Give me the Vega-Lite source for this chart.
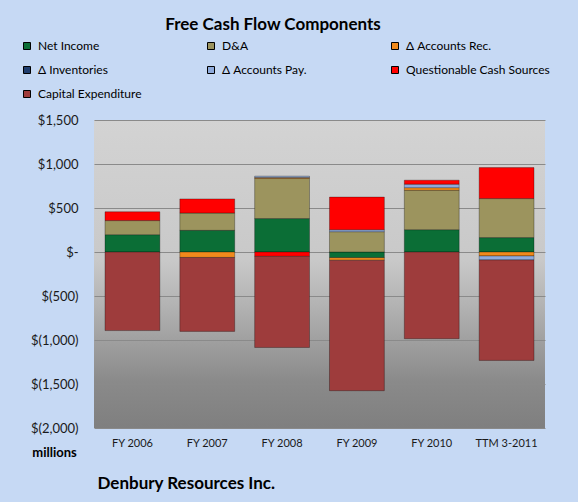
{
  "$schema": "https://vega.github.io/schema/vega-lite/v6.json",
  "width": 451,
  "height": 308,
  "autosize": {"type": "none"},
  "padding": {"left": 94, "top": 120, "right": 33, "bottom": 74},
  "background": "#c6d9f4",
  "view": {
    "stroke": null,
    "fill": {
      "gradient": "linear", "x1": 0, "y1": 0, "x2": 0, "y2": 1,
      "stops": [
        {"offset": 0, "color": "#d3d3d3"},
        {"offset": 0.45, "color": "#c9c9c9"},
        {"offset": 0.6, "color": "#b3b3b3"},
        {"offset": 0.85, "color": "#8a8a8a"},
        {"offset": 1, "color": "#7f7f7f"}
      ]
    }
  },
  "title": {
    "text": "Free Cash Flow Components",
    "anchor": "middle",
    "frame": "group",
    "dx": -46.5,
    "offset": -7,
    "baseline": "alphabetic",
    "font": "Lato",
    "fontSize": 17,
    "fontWeight": "bold",
    "color": "#000000"
  },
  "data": {
    "values": [
      {"period": "FY 2006", "component": "Net Income", "idx": 1, "value": 197},
      {"period": "FY 2006", "component": "D&A", "idx": 2, "value": 160},
      {"period": "FY 2006", "component": "Questionable Cash Sources", "idx": 6, "value": 100},
      {"period": "FY 2006", "component": "Capital Expenditure", "idx": 7, "value": -893},

      {"period": "FY 2007", "component": "Net Income", "idx": 1, "value": 246},
      {"period": "FY 2007", "component": "D&A", "idx": 2, "value": 197},
      {"period": "FY 2007", "component": "Δ Accounts Rec.", "idx": 3, "value": -62},
      {"period": "FY 2007", "component": "Questionable Cash Sources", "idx": 6, "value": 160},
      {"period": "FY 2007", "component": "Capital Expenditure", "idx": 7, "value": -840},

      {"period": "FY 2008", "component": "Net Income", "idx": 1, "value": 380},
      {"period": "FY 2008", "component": "D&A", "idx": 2, "value": 455},
      {"period": "FY 2008", "component": "Δ Accounts Rec.", "idx": 3, "value": 12},
      {"period": "FY 2008", "component": "Δ Accounts Pay.", "idx": 5, "value": 15},
      {"period": "FY 2008", "component": "Questionable Cash Sources", "idx": 6, "value": -50},
      {"period": "FY 2008", "component": "Capital Expenditure", "idx": 7, "value": -1035},

      {"period": "FY 2009", "component": "Net Income", "idx": 1, "value": -64},
      {"period": "FY 2009", "component": "D&A", "idx": 2, "value": 231},
      {"period": "FY 2009", "component": "Δ Accounts Rec.", "idx": 3, "value": -30},
      {"period": "FY 2009", "component": "Δ Accounts Pay.", "idx": 5, "value": 22},
      {"period": "FY 2009", "component": "Questionable Cash Sources", "idx": 6, "value": 371},
      {"period": "FY 2009", "component": "Capital Expenditure", "idx": 7, "value": -1482},

      {"period": "FY 2010", "component": "Net Income", "idx": 1, "value": 254},
      {"period": "FY 2010", "component": "D&A", "idx": 2, "value": 447},
      {"period": "FY 2010", "component": "Δ Accounts Rec.", "idx": 3, "value": 30},
      {"period": "FY 2010", "component": "Δ Accounts Pay.", "idx": 5, "value": 40},
      {"period": "FY 2010", "component": "Questionable Cash Sources", "idx": 6, "value": 45},
      {"period": "FY 2010", "component": "Capital Expenditure", "idx": 7, "value": -985},

      {"period": "TTM 3-2011", "component": "Net Income", "idx": 1, "value": 164},
      {"period": "TTM 3-2011", "component": "D&A", "idx": 2, "value": 443},
      {"period": "TTM 3-2011", "component": "Δ Accounts Rec.", "idx": 3, "value": -45},
      {"period": "TTM 3-2011", "component": "Δ Accounts Pay.", "idx": 5, "value": -45},
      {"period": "TTM 3-2011", "component": "Questionable Cash Sources", "idx": 6, "value": 352},
      {"period": "TTM 3-2011", "component": "Capital Expenditure", "idx": 7, "value": -1142}
    ]
  },
  "mark": {"type": "bar", "stroke": "#000000", "strokeOpacity": 0.3, "strokeWidth": 1},
  "encoding": {
    "x": {
      "field": "period",
      "type": "nominal",
      "sort": ["FY 2006", "FY 2007", "FY 2008", "FY 2009", "FY 2010", "TTM 3-2011"],
      "scale": {"paddingInner": 0.267, "paddingOuter": 0.147},
      "axis": {
        "title": "Denbury Resources Inc.",
        "titleAnchor": "start",
        "titleAlign": "left",
        "titleX": 3,
        "titleY": 60,
        "titleBaseline": "alphabetic",
        "titleFont": "Lato",
        "titleFontSize": 17,
        "titleFontWeight": "bold",
        "titleColor": "#000000",
        "labelAngle": 0,
        "labelFont": "Lato",
        "labelFontSize": 11,
        "labelColor": "#1a1a1a",
        "labelPadding": 9,
        "domain": false,
        "ticks": false
      }
    },
    "y": {
      "field": "value",
      "type": "quantitative",
      "stack": "zero",
      "scale": {"domain": [-2000, 1500], "nice": false},
      "axis": {
        "values": [-2000, -1500, -1000, -500, 0, 500, 1000, 1500],
        "labelExpr": "datum.value == 0 ? '$-' : (datum.value < 0 ? '$(' + format(-datum.value, ',') + ')' : '$' + format(datum.value, ','))",
        "labelFont": "Lato",
        "labelFontSize": 13,
        "labelColor": "#1a1a1a",
        "labelPadding": 16,
        "ticks": false,
        "domain": false,
        "grid": true,
        "gridColor": "#8a8a8a",
        "gridWidth": 1,
        "title": "millions",
        "titleAngle": 0,
        "titleAlign": "center",
        "titleBaseline": "middle",
        "titleX": -40,
        "titleY": 332,
        "titleFont": "Lato",
        "titleFontSize": 13,
        "titleFontWeight": "bold",
        "titleColor": "#000000"
      }
    },
    "color": {
      "field": "component",
      "type": "nominal",
      "scale": {
        "domain": ["Net Income", "D&A", "Δ Accounts Rec.", "Δ Inventories", "Δ Accounts Pay.", "Questionable Cash Sources", "Capital Expenditure"],
        "range": ["#0b6e36", "#9c945e", "#f08a1c", "#1f3d6e", "#8eaadb", "#ff0000", "#9e3c3c"]
      },
      "legend": {
        "orient": "none",
        "legendX": -73,
        "legendY": -80,
        "columns": 3,
        "direction": "horizontal",
        "gridAlign": "all",
        "title": null,
        "symbolType": "square",
        "symbolSize": 49,
        "symbolStrokeWidth": 1,
        "labelFont": "Lato",
        "labelFontSize": 12,
        "labelColor": "#000000",
        "labelOffset": 5,
        "labelLimit": 200,
        "columnPadding": 23,
        "rowPadding": 12,
        "padding": 0
      }
    },
    "order": {"field": "idx", "type": "quantitative"}
  }
}
